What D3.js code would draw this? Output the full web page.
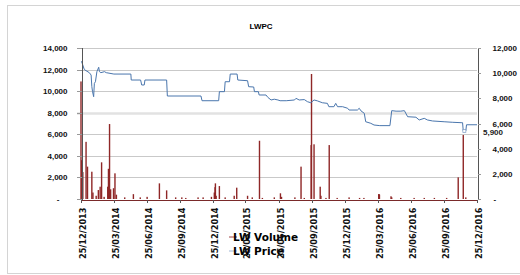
<!DOCTYPE html>
<html>
<head>
<meta charset="utf-8">
<script src="https://cdn.jsdelivr.net/npm/d3@7"></script>
<style>
  body { margin: 0; background: #fff; }
  svg { display: block; font-family: "Liberation Sans", Arial, sans-serif; }
  .axis path, .axis line { shape-rendering: crispEdges; }
  .xlab { font-family: "DejaVu Sans", Verdana, sans-serif; font-weight: bold; font-size: 8.2px; }
</style>
</head>
<body>
<svg width="520" height="275"></svg>
<script>
// chart data
var title = "LWPC";
var volumeName = "LW Volume";
var priceName = "LW Price";

var xTickLabels = ["25/12/2013", "25/03/2014", "25/06/2014", "25/09/2014", "25/12/2014",
  "25/03/2015", "25/06/2015", "25/09/2015", "25/12/2015", "25/03/2016",
  "25/06/2016", "25/09/2016", "25/12/2016"];
var volumeTicks = [0, 2000, 4000, 6000, 8000, 10000, 12000, 14000];
var priceTicks = [0, 2000, 4000, 6000, 8000, 10000, 12000];
var lastPrice = 5900;

// daily traded volume (only days with trades)
var volumeDates = ["2013-12-25", "2013-12-27", "2013-12-30", "2014-01-08", "2014-01-12", "2014-01-24",
  "2014-01-27", "2014-02-05", "2014-02-11", "2014-02-16", "2014-02-20", "2014-02-27", "2014-03-09",
  "2014-03-11", "2014-03-14", "2014-03-17", "2014-03-25", "2014-03-29", "2014-04-02", "2014-04-25",
  "2014-05-19", "2014-06-07", "2014-06-26", "2014-07-30", "2014-08-19", "2014-09-13", "2014-09-30",
  "2014-10-11", "2014-11-14", "2014-11-28", "2014-12-21", "2014-12-29", "2014-12-31", "2015-01-01",
  "2015-01-03", "2015-01-12", "2015-01-28", "2015-02-22", "2015-03-01", "2015-03-31", "2015-04-13",
  "2015-05-03", "2015-05-11", "2015-06-13", "2015-06-30", "2015-07-03", "2015-08-09", "2015-08-26",
  "2015-09-04", "2015-09-23", "2015-09-24", "2015-10-01", "2015-10-18", "2015-10-20", "2015-11-03",
  "2015-11-12", "2015-12-04", "2016-01-06", "2016-02-04", "2016-02-16", "2016-03-28", "2016-03-29",
  "2016-03-30", "2016-05-01", "2016-05-03", "2016-05-28", "2016-07-04", "2016-08-01", "2016-08-29",
  "2016-10-02", "2016-11-03", "2016-11-17", "2016-11-24"];
var volumeValues = [10900, 3600, 2500, 5300, 3000, 2530,
  600, 300, 830, 1140, 3400, 200, 1140,
  2800, 6950, 900, 1000, 2380, 400, 150,
  450, 150, 200, 1450, 800, 150, 150,
  100, 150, 150, 200, 600, 1100, 1450,
  300, 1200, 150, 300, 1050, 300, 150,
  5400, 100, 150, 530, 200, 150, 3000,
  100, 5000, 11590, 5070, 1140, 300, 100,
  5000, 100, 150, 100, 100, 450, 450,
  400, 250, 150, 100, 100, 100, 100,
  100, 2010, 5930, 150];

// closing price (corner points of the step line)
var priceDates = ["2013-12-25", "2013-12-27", "2014-01-03", "2014-01-05", "2014-01-17", "2014-01-22",
  "2014-01-24", "2014-01-26", "2014-01-29", "2014-01-31", "2014-02-03", "2014-02-07", "2014-02-12",
  "2014-02-14", "2014-02-18", "2014-02-28", "2014-03-05", "2014-03-26", "2014-05-12", "2014-05-13",
  "2014-06-08", "2014-06-11", "2014-06-18", "2014-06-20", "2014-08-19", "2014-08-21", "2014-11-22",
  "2014-11-25", "2015-01-10", "2015-01-12", "2015-01-26", "2015-01-28", "2015-02-09", "2015-02-11",
  "2015-03-02", "2015-03-04", "2015-03-31", "2015-04-03", "2015-04-17", "2015-04-19", "2015-04-30",
  "2015-05-02", "2015-05-21", "2015-05-26", "2015-06-04", "2015-06-13", "2015-06-23", "2015-06-29",
  "2015-07-16", "2015-08-08", "2015-08-12", "2015-08-21", "2015-09-04", "2015-09-13", "2015-09-22",
  "2015-10-01", "2015-10-10", "2015-10-24", "2015-11-07", "2015-11-11", "2015-11-25", "2015-11-30",
  "2015-12-05", "2015-12-19", "2016-01-02", "2016-01-06", "2016-01-29", "2016-02-03", "2016-02-08",
  "2016-02-17", "2016-02-21", "2016-03-06", "2016-03-15", "2016-03-31", "2016-04-28", "2016-05-03",
  "2016-05-15", "2016-05-28", "2016-06-07", "2016-06-16", "2016-07-09", "2016-07-18", "2016-08-01",
  "2016-08-10", "2016-08-24", "2016-09-25", "2016-10-19", "2016-11-11", "2016-11-15", "2016-11-17",
  "2016-11-24", "2016-11-26", "2016-12-25"];
var priceValues = [10950, 10900, 10300, 10250, 10040, 9850,
  8930, 8530, 8130, 9190, 9320, 10120, 10470,
  10120, 10040, 10120, 10040, 9930, 9930, 9455,
  9455, 9060, 9060, 9455, 9455, 8185, 8185,
  7810, 7810, 8530, 8530, 9320, 9320, 9930,
  9930, 9455, 9400, 8925, 8900, 8530, 8530,
  8265, 8265, 8080, 7870, 7930, 7870, 7810,
  7810, 7870, 8000, 7870, 7900, 7730, 7650,
  7870, 7800, 7650, 7600, 7335, 7335, 7600,
  7335, 7335, 7210, 7070, 7070, 7210, 7000,
  6810, 6140, 6015, 5880, 5830, 5830, 7020,
  6980, 6980, 7020, 6540, 6500, 6280, 6410,
  6280, 6200, 6140, 6095, 6065, 6065, 5400,
  5400, 5900, 5900];

document.addEventListener("DOMContentLoaded", main);

function main() {
  var parseDay = d3.timeParse("%Y-%m-%d"),
      parseTick = d3.timeParse("%d/%m/%Y");

  var volume = volumeDates.map(function(d, i) { return {date: parseDay(d), value: volumeValues[i]}; });
  var price = priceDates.map(function(d, i) { return {date: parseDay(d), value: priceValues[i]}; });
  var tickDates = xTickLabels.map(parseTick);

  var svg = d3.select("svg");
  var left = 81, right = 477, top = 48, bottom = 199;

  var x = d3.scaleTime()
      .domain([tickDates[0], tickDates[tickDates.length - 1]])
      .range([left, right]);
  var yVol = d3.scaleLinear().domain([0, 14000]).range([bottom, top]);
  var yPrice = d3.scaleLinear().domain([0, 12000]).range([bottom, top]);

  // outer chart frame
  svg.append("rect")
      .attr("x", 7.5).attr("y", 5.5)
      .attr("width", 520).attr("height", 268)
      .attr("fill", "none")
      .attr("stroke", "#d4d4d4");

  svg.append("text")
      .attr("x", 261).attr("y", 29)
      .attr("text-anchor", "middle")
      .attr("font-weight", "bold")
      .attr("font-size", "8px")
      .text(title);

  // horizontal gridlines from the volume axis
  svg.append("g")
    .selectAll("line")
    .data(volumeTicks.slice(1))
    .enter()
    .append("line")
      .attr("x1", left - 4).attr("x2", right)
      .attr("y1", function(d) { return Math.round(yVol(d)) + 0.5; })
      .attr("y2", function(d) { return Math.round(yVol(d)) + 0.5; })
      .attr("stroke", function(d) { return d == 8000 ? "#e2e2e2" : "#c9c9c9"; })
      .attr("stroke-width", function(d) { return d == 8000 ? 2.5 : 1; });

  // volume spikes
  svg.append("g")
    .selectAll("rect")
    .data(volume)
    .enter()
    .append("rect")
      .attr("x", function(d) { return x(d.date) - 0.7; })
      .attr("width", 1.4)
      .attr("y", function(d) { return yVol(d.value); })
      .attr("height", function(d) { return yVol(0) - yVol(d.value); })
      .attr("fill", "#8f2727");

  // price line
  var line = d3.line()
      .x(function(d) { return x(d.date); })
      .y(function(d) { return yPrice(d.value); });
  svg.append("path")
      .datum(price)
      .attr("d", line)
      .attr("fill", "none")
      .attr("stroke", "#4a76ad")
      .attr("stroke-width", 1);

  // left axis (volume)
  var gLeft = svg.append("g")
      .attr("class", "axis")
      .attr("transform", "translate(" + (left + 0.5) + ",0)")
      .call(d3.axisLeft(yVol).tickValues(volumeTicks).tickSize(5).tickPadding(9)
        .tickFormat(function(d) { return d == 0 ? "-" : d3.format(",")(d); }));
  styleAxis(gLeft);
  gLeft.selectAll(".tick text").filter(function(d) { return d == 0; }).attr("x", -22);

  // right axis (price)
  var gRight = svg.append("g")
      .attr("class", "axis")
      .attr("transform", "translate(" + (right + 0.5) + ",0)")
      .call(d3.axisRight(yPrice).tickValues(priceTicks).tickSize(3).tickPadding(12)
        .tickFormat(function(d) { return d == 0 ? "-" : d3.format(",")(d); }));
  styleAxis(gRight);
  gRight.selectAll(".tick text").filter(function(d) { return d == 0; }).attr("x", 16);

  // last price label
  svg.append("text")
      .attr("x", right + 6).attr("y", yPrice(lastPrice) + 10)
      .attr("font-weight", "bold")
      .attr("font-size", "8px")
      .attr("fill", "#222")
      .text(d3.format(",")(lastPrice));
  svg.append("rect")
      .attr("x", x(parseDay("2016-11-20")) - 1.5)
      .attr("y", yPrice(5400) - 1.5)
      .attr("width", 3).attr("height", 3)
      .attr("fill", "#fff")
      .attr("stroke", "#7d9cc4")
      .attr("stroke-width", 0.7);

  // legend, drawn under the date labels like in the original
  var legend = [[volumeName, "#a04545", 237], [priceName, "#9fb6d6", 251]];
  legend.forEach(function(l) {
    svg.append("line")
        .attr("x1", 229).attr("x2", 237)
        .attr("y1", l[2]).attr("y2", l[2])
        .attr("stroke", l[1]).attr("stroke-width", 1);
    svg.append("text")
        .attr("x", 233).attr("y", l[2] + 3.5)
        .attr("class", "xlab")
        .attr("font-size", "10.5px")
        .style("font-size", "10.5px")
        .text(l[0]);
  });

  // bottom axis with rotated dates
  var gBottom = svg.append("g")
      .attr("class", "axis")
      .attr("transform", "translate(0," + (bottom + 0.5) + ")")
      .call(d3.axisBottom(x).tickValues(tickDates).tickSize(3).tickSizeOuter(0)
        .tickFormat(function(d, i) { return xTickLabels[i]; }));
  gBottom.select(".domain").attr("stroke", "#7a2a2a");
  gBottom.selectAll(".tick line").attr("stroke", "#555");
  gBottom.selectAll(".tick text")
      .attr("class", "xlab")
      .attr("fill", "#111")
      .attr("transform", "rotate(-90)")
      .attr("text-anchor", "end")
      .attr("x", -8)
      .attr("y", 0)
      .attr("dy", "0.55em");
}

// flat excel-like look for the vertical axes
function styleAxis(g) {
  g.select(".domain").attr("stroke", "#555");
  g.selectAll(".tick line").attr("stroke", "#999");
  g.selectAll(".tick text")
      .attr("font-family", "'Liberation Sans', Arial, sans-serif")
      .attr("font-weight", "bold")
      .attr("font-size", "8px")
      .attr("fill", "#111");
}
</script>
</body>
</html>
